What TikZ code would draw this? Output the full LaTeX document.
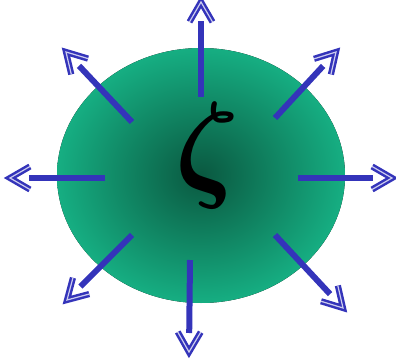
\documentclass[tikz,border=0pt]{standalone}
\usepackage{amsmath}
\usepackage{graphicx}
\usetikzlibrary{calc}
\definecolor{arrowblue}{RGB}{52,52,186}
\definecolor{greenin}{RGB}{10,88,64}
\definecolor{greenout}{RGB}{22,174,130}
\tikzset{
  shaft/.style={draw=arrowblue, line width=6pt},
  chev/.style={draw=arrowblue, line width=2.5pt, double=white!75!arrowblue, double distance=1.2pt, line join=miter, line cap=butt},
}
\newcommand{\radarrow}[2]{%
  \draw[shaft] (#1) -- ($(#2)!19pt!(#1)$);
  \draw[chev] ($(#2)!23pt!30:(#1)$) -- (#2) -- ($(#2)!23pt!-30:(#1)$);
}
\begin{document}
\begin{tikzpicture}[x=1pt,y=1pt]
\useasboundingbox (0,0) rectangle (396,359);
\fill[inner color=greenin, outer color=greenout] (201,183.5) ellipse [x radius=144, y radius=127.5];
\coordinate (cen) at (201,183.5);
\node[inner sep=0pt] (zeta) at (207.5,203.5) {\resizebox*{64pt}{106pt}{$\boldsymbol{\zeta}$}};
% start / tip coordinates
\coordinate (sT) at (201,262);  \coordinate (tT) at (201,357);
\coordinate (sUR) at (275,241); \coordinate (tUR) at (336,307);
\coordinate (sR) at (298,181);  \coordinate (tR) at (392,181);
\coordinate (sLR) at (275,124); \coordinate (tLR) at (343,51);
\coordinate (sB) at (190,99);   \coordinate (tB) at (189,7);
\coordinate (sLL) at (132,124); \coordinate (tLL) at (67,59);
\coordinate (sL) at (105,181);  \coordinate (tL) at (10,181);
\coordinate (sUL) at (132,237); \coordinate (tUL) at (66,307);
\radarrow{sT}{tT}
\radarrow{sUR}{tUR}
\radarrow{sR}{tR}
\radarrow{sLR}{tLR}
\radarrow{sB}{tB}
\radarrow{sLL}{tLL}
\radarrow{sL}{tL}
\radarrow{sUL}{tUL}
\end{tikzpicture}
\end{document}
